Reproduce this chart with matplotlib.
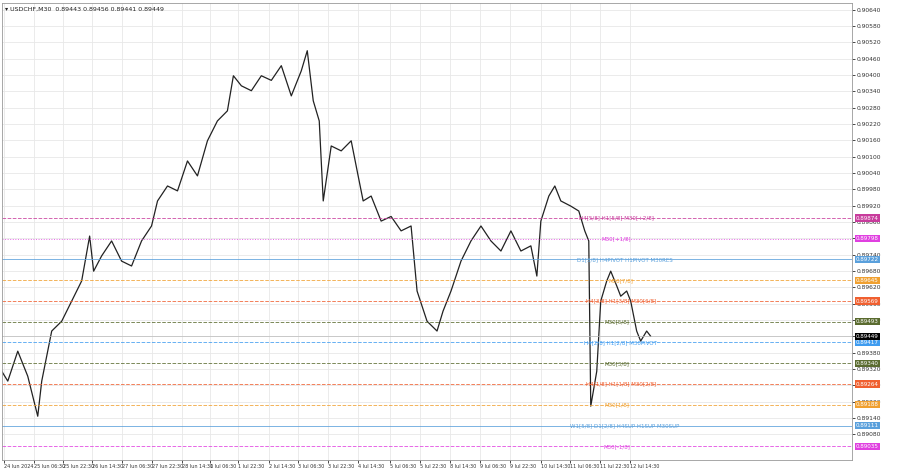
import matplotlib.pyplot as plt

# price path (bar index, close)
bars = [0, 3, 8, 13, 18, 20, 25, 30, 35, 40, 44, 46, 50, 55, 60, 65, 70, 75, 78, 83, 88, 93, 98, 103,
        108, 113, 116, 120, 125, 130, 135, 140, 145, 150, 153, 156, 159, 161, 165, 170, 175, 178,
        181, 185, 190, 195, 200, 205, 208, 213, 218, 221, 225, 230, 235, 240, 245, 250, 255, 260,
        265, 268, 270, 274, 277, 280, 285, 289, 292, 294, 295, 298, 300, 303, 305, 308, 310, 313,
        315, 318, 320, 323, 325]
close = [0.89311, 0.89275, 0.89385, 0.89293, 0.89146, 0.89275, 0.89459, 0.89495, 0.89569, 0.89643,
         0.89808, 0.89679, 0.89735, 0.89790, 0.89716, 0.89698, 0.89790, 0.89845, 0.89937, 0.89992,
         0.89974, 0.90084, 0.90029, 0.90158, 0.90231, 0.90268, 0.90397, 0.90360, 0.90342, 0.90397,
         0.90380, 0.90434, 0.90323, 0.90415, 0.90489, 0.90305, 0.90231, 0.89937, 0.90139, 0.90121,
         0.90158, 0.90047, 0.89937, 0.89955, 0.89863, 0.89880, 0.89827, 0.89845, 0.89606, 0.89495,
         0.89459, 0.89532, 0.89606, 0.89716, 0.89790, 0.89845, 0.89790, 0.89753, 0.89827, 0.89753,
         0.89772, 0.89661, 0.89863, 0.89955, 0.89992, 0.89937, 0.89918, 0.89900, 0.89827, 0.89790,
         0.89183, 0.89311, 0.89569, 0.89643, 0.89679, 0.89625, 0.89587, 0.89606, 0.89569, 0.89459,
         0.89422, 0.89459, 0.89440]

# horizontal levels: price, colour, linestyle, text
lv_price = [0.89874, 0.89798, 0.89722, 0.89645, 0.89569, 0.89493, 0.89417, 0.89340, 0.89264, 0.89188, 0.89111, 0.89035]
lv_color = ['#c83c9c', '#e040e0', '#5aa0dc', '#f0a030', '#f06030', '#5a6b2f', '#3f9cf0', '#5a6b2f',
            '#f06030', '#f0a030', '#5aa0dc', '#e040e0']
lv_style = ['--', ':', '-', '--', '--', '--', '--', '--', '--', '--', '-', '--']
lv_text = ['H4[5/8] H1[5/8] M30[+2/8]', 'M30[+1/8]', 'D1[3/8] H4PIVOT H1PIVOT M30RES', 'M30[7/8]',
           'H4[3/8] H1[3/8] M30[6/8]', 'M30[5/8]', 'H4[2/8] H1[2/8] M30PIVOT', 'M30[3/8]',
           'H4[1/8] H1[1/8] M30[2/8]', 'M30[1/8]', 'W1[5/8] D1[2/8] H4SUP H1SUP M30SUP', 'M30[-1/8]']
lv_xtext = [308, 308, 312, 310, 310, 308, 310, 308, 310, 308, 312, 308]

date_labels = ['24 Jun 2024', '25 Jun 06:30', '25 Jun 22:30', '26 Jun 14:30', '27 Jun 06:30', '27 Jun 22:30',
               '28 Jun 14:30', '1 Jul 06:30', '1 Jul 22:30', '2 Jul 14:30', '3 Jul 06:30', '3 Jul 22:30',
               '4 Jul 14:30', '5 Jul 06:30', '5 Jul 22:30', '8 Jul 14:30', '9 Jul 06:30', '9 Jul 22:30',
               '10 Jul 14:30', '11 Jul 06:30', '11 Jul 22:30', '12 Jul 14:30']
date_pos = [1, 16, 30.5, 45, 60, 75, 90.5, 104.5, 118.5, 134, 148.5, 163.5, 178.5, 194.5, 209.5, 224.5,
            239.5, 254.5, 270, 284.5, 299.5, 314.5]
price_ticks = [0.90640 - 0.0006 * i for i in range(27)]

fig = plt.figure(figsize=[9, 4.68], dpi=100)
ax = fig.add_axes([0.002, 0.017, 0.945, 0.977])
ax.set_xlim(0, 426)
ax.set_ylim(0.88985, 0.90665)
ax.yaxis.tick_right()
ax.set_yticks(price_ticks)
ax.set_yticklabels(['%.5f' % p for p in price_ticks], fontsize=4.3, color='#333333')
ax.set_xticks(date_pos)
ax.set_xticklabels(date_labels, fontsize=3.5, color='#333333', ha='left')
ax.tick_params(length=2, pad=1, width=0.5)
ax.grid(color='#e8e8e8', linewidth=0.6)
for s in ax.spines.values():
    s.set_color('#999999')
    s.set_linewidth(0.6)

ax.plot(bars, close, color='#222222', linewidth=0.9)

for p, c, ls, t, xt in zip(lv_price, lv_color, lv_style, lv_text, lv_xtext):
    ax.axhline(p, color=c, linestyle=ls, linewidth=0.7, alpha=0.8)
    ax.text(xt, p, t, color=c, fontsize=4, ha='center', va='center')
    ax.text(1.004, p, '%.5f' % p, transform=ax.get_yaxis_transform(), fontsize=4.1, color='white',
            va='center', ha='left', bbox=dict(facecolor=c, edgecolor='none', pad=0.8), clip_on=False)
ax.text(1.004, close[-1], '%.5f' % 0.89449, transform=ax.get_yaxis_transform(), fontsize=4.1,
        color='white', va='center', ha='left', bbox=dict(facecolor='black', edgecolor='none', pad=0.8))
ax.axhline(close[-1], color='#bbbbbb', linewidth=0.5)

ax.text(0.004, 0.985, '\u25be USDCHF,M30  0.89443 0.89456 0.89441 0.89449', transform=ax.transAxes,
        fontsize=4.5, va='center', color='#222222')

plt.savefig('out.png', dpi=100)
